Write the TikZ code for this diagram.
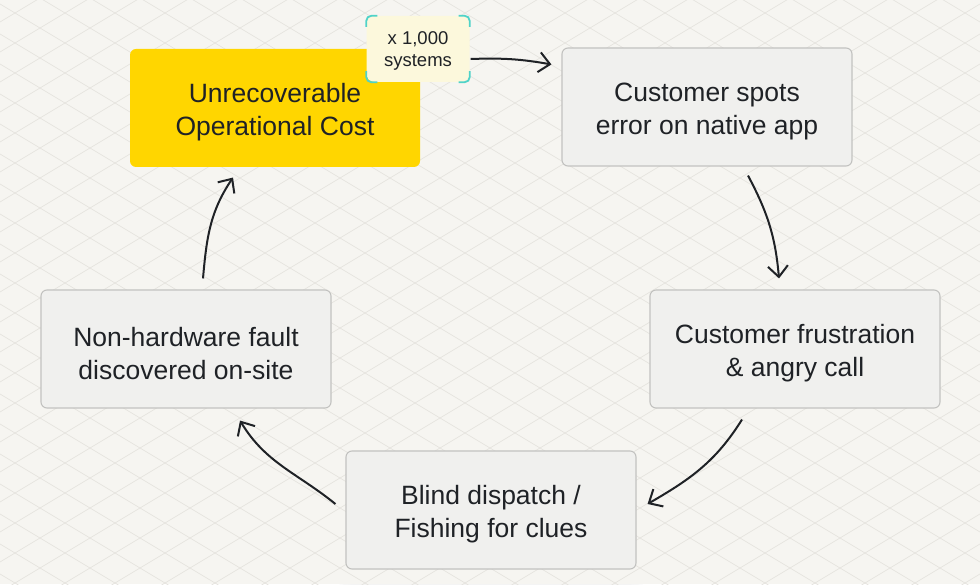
\documentclass[tikz,border=0pt]{standalone}
\usepackage{fontspec}
\setmainfont{Liberation Sans}
\usetikzlibrary{arrows.meta,backgrounds}

\definecolor{paper}{HTML}{F6F5F1}
\definecolor{gridline}{HTML}{E6E4DF}
\definecolor{cardfill}{HTML}{F0F0EE}
\definecolor{cardline}{HTML}{C2C2C0}
\definecolor{costfill}{HTML}{FFD600}
\definecolor{glow}{HTML}{FFE24A}
\definecolor{badgefill}{HTML}{FCF8DC}
\definecolor{bracket}{HTML}{4FD3C8}
\definecolor{ink}{HTML}{1F2226}

% pushes the two lines a little lower in their box
\newcommand\lowtext{\rule{0pt}{27.5pt}}
\newcommand\lowbadge{\rule{0pt}{17pt}}

\tikzset{
  card/.style={rectangle,rounded corners=6pt,draw=cardline,line width=1.1pt,
    fill=cardfill,minimum width=290pt,minimum height=118pt,align=center,
    text=ink,font=\fontsize{26.5}{33}\selectfont},
  costcard/.style={card,draw=none,fill=costfill},
  badgebox/.style={rectangle,rounded corners=8pt,fill=badgefill,
    minimum width=103pt,minimum height=66pt,align=center,text=ink,
    font=\fontsize{18.5}{22}\selectfont},
  loop arrow/.style={draw=ink,line width=2pt,
    -{Straight Barb[length=11pt,width=20pt,line width=2pt]}},
  corner/.style={draw=bracket,line width=1.8pt,rounded corners=5pt}
}

\begin{document}
\begin{tikzpicture}[x=1pt,y=1pt]
  % paper and grid
  \fill[paper] (0,0) rectangle (980,584);
  \begin{scope}
    \clip (0,0) rectangle (980,584);
    \foreach \c in {-608,-578,...,600}{
      \draw[gridline,line width=0.7pt] (0,\c) -- (980,\c+588);
    }
    \foreach \c in {-20,10,...,1200}{
      \draw[gridline,line width=0.7pt] (0,\c) -- (980,\c-588);
    }
  \end{scope}
  \useasboundingbox (0,0) rectangle (980,584);

  % the five steps
  \node[costcard] (cost)     at (275,476) {\lowtext Unrecoverable\\Operational Cost};
  \node[card]     (spots)    at (707,477) {\lowtext Customer spots\\error on native app};
  \node[card]     (anger)    at (795,235) {\lowtext Customer frustration\\\& angry call};
  \node[card]     (dispatch) at (491,74)  {\lowtext Blind dispatch /\\Fishing for clues};
  \node[card]     (fault)    at (186,235) {\lowtext Non-hardware fault\\discovered on-site};

  \node[badgebox] (badge) at (418,535) {\lowbadge x 1,000\\systems};

  % glow and shadows
  \begin{scope}[on background layer]
    \foreach \r in {2,4,...,18}{
      \fill[glow,opacity=0.05,rounded corners=6pt+\r]
        ([shift={(-\r,-\r)}]cost.south west) rectangle ([shift={(\r,\r)}]cost.north east);
      \fill[glow,opacity=0.05,rounded corners=8pt+\r]
        ([shift={(-\r*0.6,-\r*0.6)}]badge.south west) rectangle ([shift={(\r*0.6,\r*0.6)}]badge.north east);
    }
    \foreach \b in {spots,anger,dispatch,fault}{
      \foreach \r in {2,4,...,14}{
        \fill[black,opacity=0.016,rounded corners=6pt+\r]
          ([shift={(-\r,-\r-5)}]\b.south west) rectangle ([shift={(\r,\r-5)}]\b.north east);
      }
    }
  \end{scope}

  % brackets round the badge
  \draw[corner] ([yshift=-11pt]badge.north west) |- ([xshift=11pt]badge.north west);
  \draw[corner] ([xshift=-11pt]badge.north east) -| ([yshift=-11pt]badge.north east);
  \draw[corner] ([yshift=11pt]badge.south west) |- ([xshift=11pt]badge.south west);
  \draw[corner] ([xshift=-11pt]badge.south east) -| ([yshift=11pt]badge.south east);

  % the loop
  \draw[loop arrow] ([shift={(1,-10)}]badge.east)
    to[out=2,in=170] ([shift={(-10,-17)}]spots.north west);
  \draw[loop arrow] ([shift={(41,-9)}]spots.south)
    to[out=-62,in=95] ([shift={(-16,11)}]anger.north);
  \draw[loop arrow] ([shift={(-53,-11)}]anger.south)
    to[out=-122,in=30] ([shift={(11,6)}]dispatch.east);
  \draw[loop arrow] ([shift={(-10,6)}]dispatch.west)
    to[out=141,in=-59] ([shift={(54,-12)}]fault.south);
  \draw[loop arrow] ([shift={(17,11)}]fault.north)
    to[out=85,in=236] ([shift={(-42,-10)}]cost.south);
\end{tikzpicture}
\end{document}
